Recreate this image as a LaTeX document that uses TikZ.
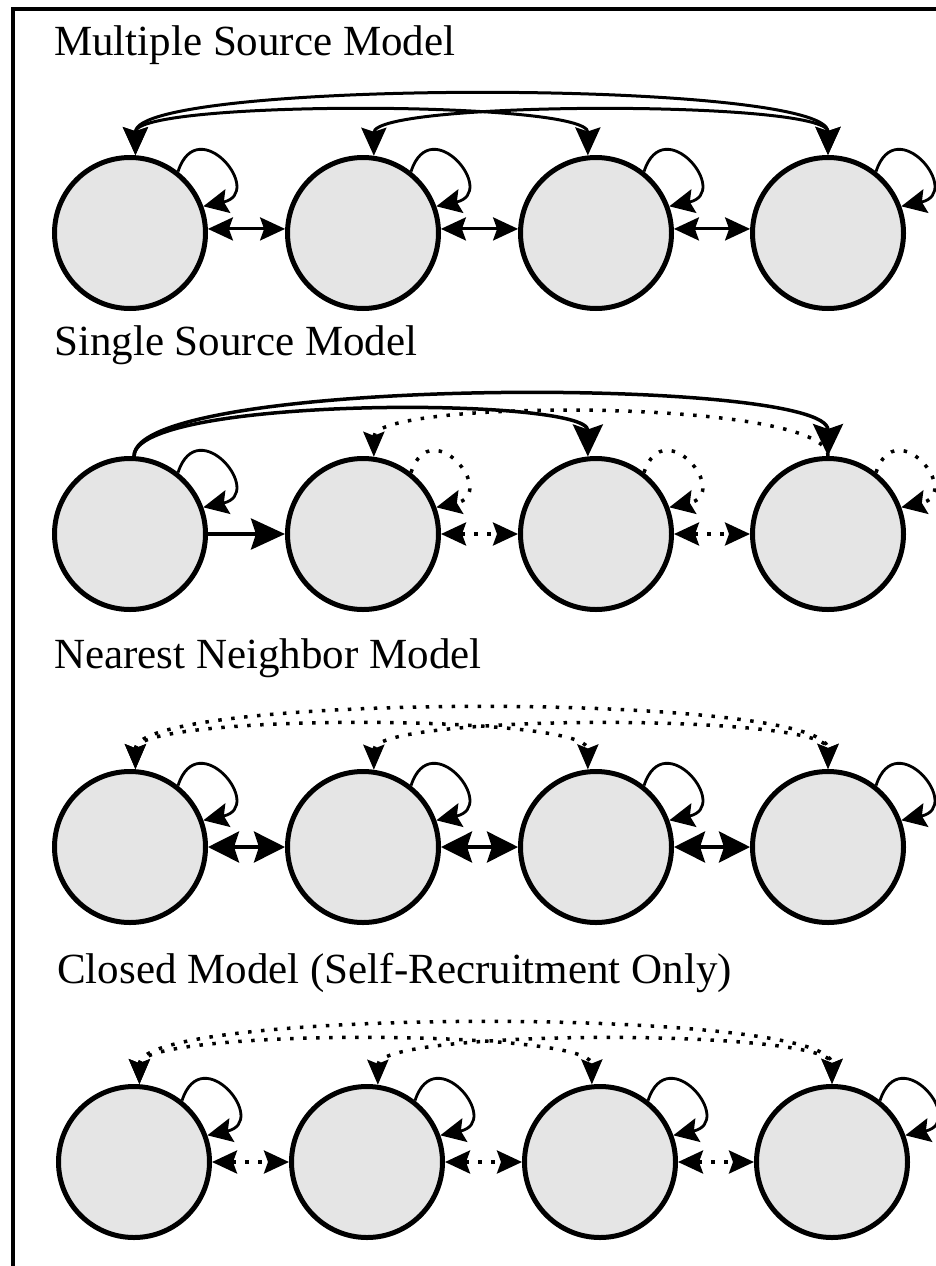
\documentclass[tikz,border=0pt]{standalone}
\usepackage{fontspec}
\setmainfont{Liberation Serif}
\usepackage{xcolor}
\usepackage{tikz}
\usetikzlibrary{arrows.meta, calc}

\definecolor{patchgray}{gray}{0.9}

\begin{document}
\begin{tikzpicture}[x=1pt, y=1pt,
	patch/.style={circle, draw, line width=5pt, fill=patchgray, minimum size=151pt, inner sep=0pt},
	heading/.style={anchor=base west, inner sep=0pt, font=\fontsize{43}{50}\selectfont},
	dotline/.style={line width=3.5pt, dash pattern=on 3.5pt off 9.5pt},
	selfloop/.style={line width=2.8pt, -{Stealth[length=25pt,width=24pt,inset=4pt]}},
	twoway/.style={line width=3pt, {Stealth[length=25pt,width=23pt,inset=4pt]}-{Stealth[length=25pt,width=23pt,inset=4pt]}},
	twowaybig/.style={line width=3.5pt, {Stealth[length=31pt,width=31pt,inset=5pt]}-{Stealth[length=31pt,width=31pt,inset=5pt]}},
	dottwoway/.style={dotline, {Stealth[length=25pt,width=23pt,inset=4pt]}-{Stealth[length=25pt,width=23pt,inset=4pt]}},
	oneway/.style={line width=4pt, -{Stealth[length=34pt,width=31pt,inset=5pt]}},
	longarc/.style={line width=3pt, {Stealth[length=28pt,width=25pt,inset=4pt]}-{Stealth[length=28pt,width=25pt,inset=4pt]}},
	longarcbig/.style={line width=3.5pt, -{Stealth[length=32pt,width=30pt,inset=5pt]}},
	dotarc/.style={dotline, {Stealth[length=25pt,width=21pt,inset=4pt]}-{Stealth[length=25pt,width=21pt,inset=4pt]}}]
	\useasboundingbox (0,0) rectangle (936,-1266);
	\draw[line width=4pt] (13,-1266) -- (13,-8.5) -- (936,-8.5);

	% multiple source
	\node[heading] (msT) at (54,-55) {Multiple Source Model};
	\node[patch] (ms1) at (130,-233) {};
	\node[patch] (ms2) at (363,-233) {};
	\node[patch] (ms3) at (596,-233) {};
	\node[patch] (ms4) at (828,-233) {};
	\draw[selfloop] (ms1.52) .. controls +(72:64) and +(12:64) .. (ms1.20);
	\draw[selfloop] (ms2.52) .. controls +(72:64) and +(12:64) .. (ms2.20);
	\draw[selfloop] (ms3.52) .. controls +(72:64) and +(12:64) .. (ms3.20);
	\draw[selfloop] (ms4.52) .. controls +(72:64) and +(12:64) .. (ms4.20);
	\draw[twoway] (ms1.3) -- (ms2.177);
	\draw[twoway] (ms2.3) -- (ms3.177);
	\draw[twoway] (ms3.3) -- (ms4.177);
	\draw[longarc] (ms1.86) .. controls +(90:76) and +(90:76) .. (ms4.90);
	\draw[longarc] (ms1.86) .. controls +(90:55) and +(90:55) .. (ms3.96);
	\draw[longarc] (ms2.82) .. controls +(90:55) and +(90:55) .. (ms4.90);

	% single source
	\node[heading] (ssT) at (54,-355) {Single Source Model};
	\node[patch] (ss1) at (130,-534) {};
	\node[patch] (ss2) at (363,-534) {};
	\node[patch] (ss3) at (596,-534) {};
	\node[patch] (ss4) at (828,-534) {};
	\draw[selfloop] (ss1.52) .. controls +(72:64) and +(12:64) .. (ss1.20);
	\draw[selfloop, dotline] (ss2.52) .. controls +(72:64) and +(12:64) .. (ss2.20);
	\draw[selfloop, dotline] (ss3.52) .. controls +(72:64) and +(12:64) .. (ss3.20);
	\draw[selfloop, dotline] (ss4.52) .. controls +(72:64) and +(12:64) .. (ss4.20);
	\draw[oneway] (ss1.east) -- (ss2.west);
	\draw[dottwoway] (ss2.east) -- (ss3.west);
	\draw[dottwoway] (ss3.east) -- (ss4.west);
	\draw[dotline, -{Stealth[length=25pt,width=21pt,inset=4pt]}] (ss4.90) .. controls +(90:58) and +(90:58) .. (ss2.82);
	\draw[longarcbig] (ss1.87) .. controls +(90:80) and +(90:80) .. (ss4.90);
	\draw[longarcbig] (ss1.87) .. controls +(90:60) and +(90:60) .. (ss3.96);

	% nearest neighbor
	\node[heading] (nnT) at (54,-668) {Nearest Neighbor Model};
	\node[patch] (nn1) at (130,-847) {};
	\node[patch] (nn2) at (363,-847) {};
	\node[patch] (nn3) at (596,-847) {};
	\node[patch] (nn4) at (828,-847) {};
	\draw[selfloop] (nn1.52) .. controls +(72:64) and +(12:64) .. (nn1.20);
	\draw[selfloop] (nn2.52) .. controls +(72:64) and +(12:64) .. (nn2.20);
	\draw[selfloop] (nn3.52) .. controls +(72:64) and +(12:64) .. (nn3.20);
	\draw[selfloop] (nn4.52) .. controls +(72:64) and +(12:64) .. (nn4.20);
	\draw[twowaybig] (nn1.east) -- (nn2.west);
	\draw[twowaybig] (nn2.east) -- (nn3.west);
	\draw[twowaybig] (nn3.east) -- (nn4.west);
	\draw[dotarc] (nn1.86) .. controls +(90:77) and +(90:77) .. (nn4.90);
	\draw[dotarc] (nn1.86) .. controls +(90:56) and +(90:56) .. (nn3.96);
	\draw[dotarc] (nn2.82) .. controls +(90:56) and +(90:56) .. (nn4.90);

	% closed
	\node[heading] (clT) at (57,-983) {Closed Model (Self-Recruitment Only)};
	\node[patch] (cl1) at (134,-1162) {};
	\node[patch] (cl2) at (367,-1162) {};
	\node[patch] (cl3) at (600,-1162) {};
	\node[patch] (cl4) at (832,-1162) {};
	\draw[selfloop] (cl1.52) .. controls +(72:64) and +(12:64) .. (cl1.20);
	\draw[selfloop] (cl2.52) .. controls +(72:64) and +(12:64) .. (cl2.20);
	\draw[selfloop] (cl3.52) .. controls +(72:64) and +(12:64) .. (cl3.20);
	\draw[selfloop] (cl4.52) .. controls +(72:64) and +(12:64) .. (cl4.20);
	\draw[dottwoway] (cl1.east) -- (cl2.west);
	\draw[dottwoway] (cl2.east) -- (cl3.west);
	\draw[dottwoway] (cl3.east) -- (cl4.west);
	\draw[dotarc] (cl1.86) .. controls +(90:77) and +(90:77) .. (cl4.90);
	\draw[dotarc] (cl1.86) .. controls +(90:56) and +(90:56) .. (cl3.96);
	\draw[dotarc] (cl2.82) .. controls +(90:56) and +(90:56) .. (cl4.90);
\end{tikzpicture}
\end{document}
